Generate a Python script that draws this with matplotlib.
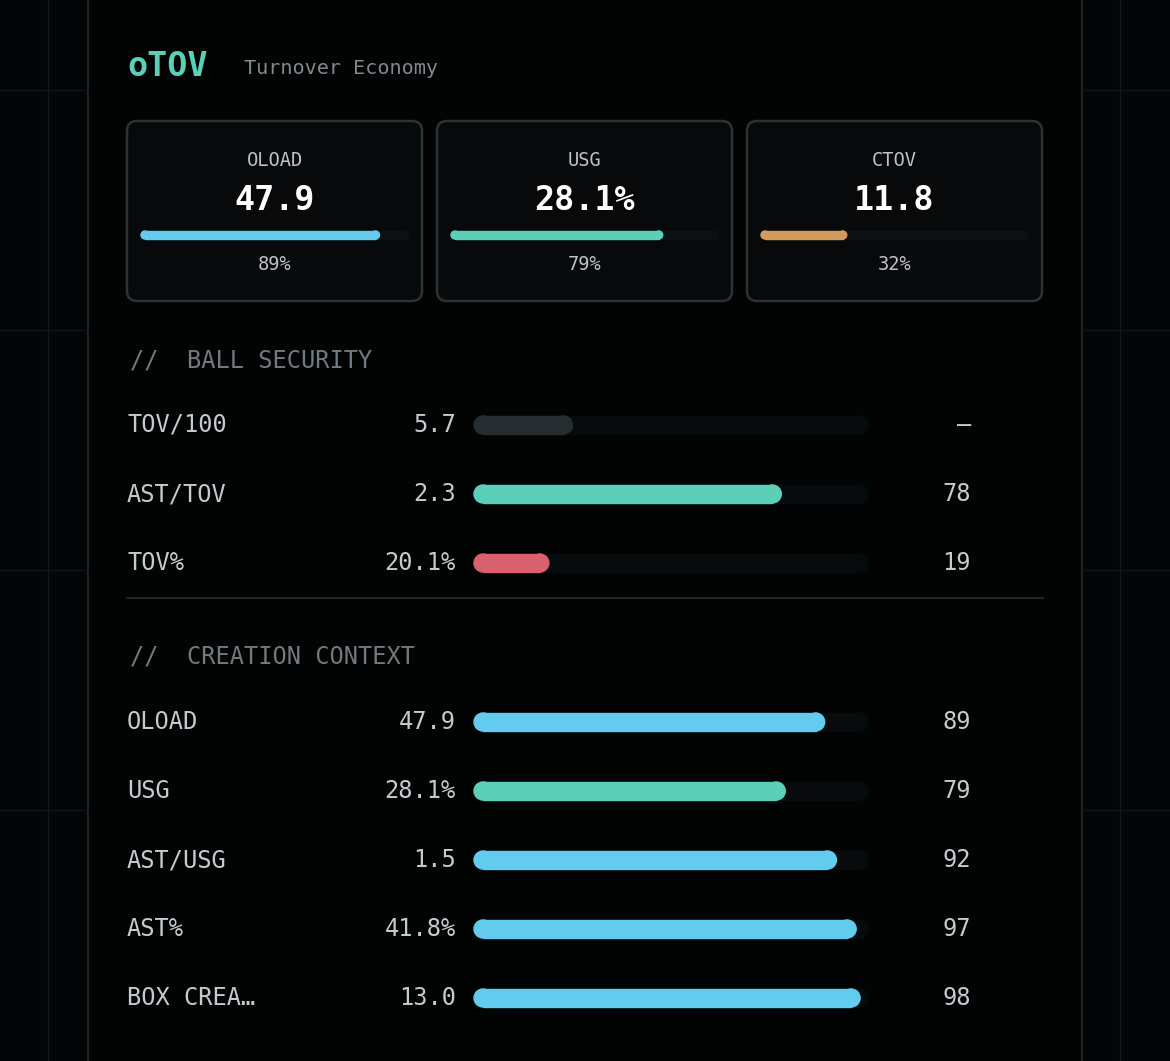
import matplotlib.pyplot as plt
from matplotlib.patches import FancyBboxPatch

# data
card_labels = ["OLOAD", "USG", "CTOV"]
card_values = ["47.9", "28.1%", "11.8"]
card_pcts = [89, 79, 32]
card_colors = ["#62cbee", "#5ccfb8", "#d39a5c"]

sec1_labels = ["TOV/100", "AST/TOV", "TOV%"]
sec1_values = ["5.7", "2.3", "20.1%"]
sec1_pcts = [25, 78, 19]
sec1_ranks = ["—", "78", "19"]
sec1_colors = ["#262d31", "#5ccfb8", "#d9606e"]

sec2_labels = ["OLOAD", "USG", "AST/USG", "AST%", "BOX CREA…"]
sec2_values = ["47.9", "28.1%", "1.5", "41.8%", "13.0"]
sec2_pcts = [89, 79, 92, 97, 98]
sec2_ranks = ["89", "79", "92", "97", "98"]
sec2_colors = ["#62cbee", "#5ccfb8", "#62cbee", "#62cbee", "#62cbee"]

MONO = "DejaVu Sans Mono"
W, H = 1170, 1061
fig = plt.figure(figsize=(W / 100, H / 100), dpi=100, facecolor="#040506")
ax = fig.add_axes([0, 0, 1, 1])
ax.set_xlim(0, W)
ax.set_ylim(H, 0)
ax.axis("off")

# background grid at sides
for x in [48, 1120]:
    ax.axvline(x, color="#0e1a20", lw=1)
for y in [90, 330, 570, 810]:
    ax.plot([0, 88], [y, y], color="#0c161b", lw=1)
    ax.plot([1082, W], [y, y], color="#0c161b", lw=1)
ax.add_patch(plt.Rectangle((88, -5), 994, H + 10, facecolor="#020303",
                           edgecolor="#1e2529", lw=1.5))


def rbar(x, y, w, h, color):
    r = h / 2
    ax.add_patch(FancyBboxPatch((x + r, y), max(w - 2 * r, 0.1), h,
                                boxstyle=f"round,pad=0,rounding_size={r}",
                                mutation_aspect=1, facecolor=color,
                                edgecolor="none"))
    ax.add_patch(plt.Circle((x + r, y + r), r, color=color))
    ax.add_patch(plt.Circle((x + w - r, y + r), r, color=color))
    ax.add_patch(plt.Rectangle((x + r, y), w - 2 * r, h, color=color))


ax.text(127, 67, "oTOV", color="#5ccfb8", fontsize=24, fontweight="bold",
        family=MONO, va="center")
ax.text(244, 69, "Turnover Economy", color="#7e8a8f", fontsize=14.5,
        family=MONO, va="center")

# cards
for i, (lab, val, p, c) in enumerate(zip(card_labels, card_values, card_pcts, card_colors)):
    x0 = 127 + i * 310
    ax.add_patch(FancyBboxPatch((x0, 121), 295, 180,
                                boxstyle="round,pad=0,rounding_size=10",
                                facecolor="#07090b", edgecolor="#2d3236", lw=1.8))
    cx = x0 + 147.5
    ax.text(cx, 160, lab, color="#b9c4c8", fontsize=13.5, family=MONO,
            ha="center", va="center")
    ax.text(cx, 200, val, color="white", fontsize=24, fontweight="bold",
            family=MONO, ha="center", va="center")
    rbar(x0 + 14, 231, 268, 8, "#0c1014")
    rbar(x0 + 14, 231, 268 * p / 100, 8, c)
    ax.text(cx, 265, f"{p}%", color="#b9c4c8", fontsize=13.5, family=MONO,
            ha="center", va="center")


def section(title, ty, labels, values, pcts, ranks, colors, y0):
    ax.text(130, ty, "//  " + title, color="#6f7a80", fontsize=17, family=MONO,
            va="center")
    for k, (lab, val, p, rk, c) in enumerate(zip(labels, values, pcts, ranks, colors)):
        y = y0 + k * 69
        ax.text(127, y, lab, color="#c2ccd0", fontsize=17, family=MONO, va="center")
        ax.text(456, y, val, color="#c2ccd0", fontsize=17, family=MONO,
                va="center", ha="right")
        rbar(474, y - 9, 394, 18, "#080b0e")
        rbar(474, y - 9, 394 * p / 100, 18, c)
        ax.text(971, y, rk, color="#c2ccd0", fontsize=17, family=MONO,
                va="center", ha="right")


section("BALL SECURITY", 360, sec1_labels, sec1_values, sec1_pcts, sec1_ranks,
        sec1_colors, 425)
ax.plot([127, 1043], [598, 598], color="#1e2529", lw=1.5)
section("CREATION CONTEXT", 657, sec2_labels, sec2_values, sec2_pcts, sec2_ranks,
        sec2_colors, 722)

fig.savefig("out.png", dpi=100, facecolor=fig.get_facecolor())
